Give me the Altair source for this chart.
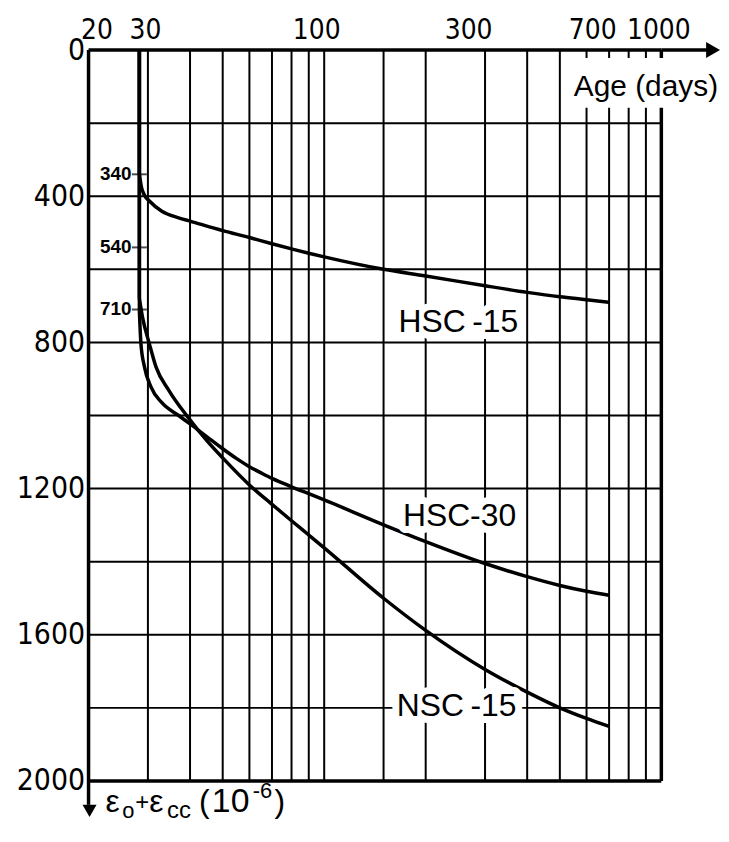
import altair as alt
import pandas as pd

NUM_FONT = "Liberation Sans Narrow, DejaVu Sans Condensed, Roboto Condensed, Arial Narrow, sans-serif"
TXT_FONT = "Liberation Sans, Arial, Helvetica, sans-serif"

# ---------------- data ----------------
series_names = ["HSC -15", "HSC-30", "NSC -15"]
label_texts = ["HSC\u2009-15", "HSC-30", "NSC\u2009-15"]
start_day = 28.3
initial_strain = [340, 713, 680]

hsc15_days = [28.3, 28.7, 29.3, 30.3, 33, 37, 40, 50, 60, 70, 80, 90, 100, 150, 200, 300, 400, 500, 600, 700]
hsc15_strain = [340, 375, 397, 413, 441, 459, 468, 494, 513, 530, 544, 556, 566, 600, 618, 645, 663, 675, 683, 690]

hsc30_days = [28.3, 28.6, 29.3, 30.6, 33, 37, 40, 45, 50, 55, 60, 65, 70, 80, 90, 100, 150, 200, 300, 400, 500, 600, 700]
hsc30_strain = [713, 803, 867, 921, 965, 1000, 1023, 1059, 1091, 1118, 1140, 1157, 1172, 1195, 1214, 1231, 1299, 1345, 1405, 1441, 1465, 1481, 1492]

nsc15_days = [28.3, 28.9, 30.3, 31.7, 34.6, 39.3, 45, 50, 60, 70, 80, 90, 100, 150, 200, 300, 400, 500, 600, 700]
nsc15_strain = [680, 730, 804, 867, 931, 1003, 1070, 1116, 1190, 1243, 1288, 1327, 1362, 1500, 1588, 1695, 1757, 1800, 1829, 1851]

x_tick_labels = [20, 30, 100, 300, 700, 1000]
y_tick_labels = [0, 400, 800, 1200, 1600, 2000]
x_grid = [30, 40, 50, 60, 70, 80, 90, 100, 150, 200, 300, 400, 500, 600, 700, 800, 900]
x_border = [20, 1000]
y_grid = [200, 400, 600, 800, 1000, 1200, 1400, 1600, 1800]
y_border = [0, 2000]

marker_values = [340, 540, 710]

label_days = [250, 252, 247]
label_strain = [743, 1275, 1795]

# ---------------- tables ----------------
rows = []
for name, d, s in [(series_names[0], hsc15_days, hsc15_strain),
                   (series_names[1], hsc30_days, hsc30_strain),
                   (series_names[2], nsc15_days, nsc15_strain)]:
    for i, (dd, ss) in enumerate(zip(d, s)):
        rows.append({"series": name, "day": dd, "strain": ss, "order": i})
curves = pd.DataFrame(rows)

init_df = pd.DataFrame({"series": series_names, "day": [start_day] * 3,
                        "top": [0] * 3, "strain": initial_strain})
xgrid_df = pd.DataFrame({"day": x_grid})
xborder_df = pd.DataFrame({"day": x_border})
ygrid_df = pd.DataFrame({"strain": y_grid})
yborder_df = pd.DataFrame({"strain": y_border})
marker_df = pd.DataFrame({"day": [start_day] * 3, "strain": marker_values,
                          "label": [str(v) for v in marker_values]})
label_df = pd.DataFrame({"day": label_days, "strain": label_strain, "label": label_texts})

W, H = 576, 735
xs = alt.Scale(type="log", domain=[20, 1000], nice=False)
ys = alt.Scale(domain=[0, 2000], reverse=True, nice=False)

# small horizontal nudges of the top labels, as in the original drawing
x_label_shift = {20: 8, 30: -3, 100: -8, 300: -17, 700: -17, 1000: -3}

x_axis = alt.Axis(orient="top", values=x_tick_labels, format="d", title=None,
                  labelFont=NUM_FONT, labelFontSize=28, labelColor="black",
                  ticks=False, domain=False, grid=False, labelPadding=6,
                  labelFlush=False, labelOverlap=False,
                  labelOffset={"condition": [{"test": f"datum.value == {k}", "value": v}
                                             for k, v in x_label_shift.items()],
                               "value": 0})
y_axis = alt.Axis(orient="left", values=y_tick_labels, format="d", title=None,
                  labelFont=NUM_FONT, labelFontSize=30, labelColor="black",
                  ticks=False, domain=False, grid=False, labelPadding=4)


def X(field="day:Q"):
    return alt.X(field, scale=xs, axis=x_axis)


def Y(field="strain:Q"):
    return alt.Y(field, scale=ys, axis=y_axis)


vgrid = alt.Chart(xgrid_df).mark_rule(color="black", strokeWidth=2).encode(
    x=X(), y=alt.value(0), y2=alt.value(H))
vborder = alt.Chart(xborder_df).mark_rule(color="black", strokeWidth=3.5).encode(
    x=X(), y=alt.value(0), y2=alt.value(H))
hgrid = alt.Chart(ygrid_df).mark_rule(color="black", strokeWidth=2).encode(
    y=Y(), x=alt.value(0), x2=alt.value(W))
hborder = alt.Chart(yborder_df).mark_rule(color="black", strokeWidth=3.5).encode(
    y=Y(), x=alt.value(0), x2=alt.value(W))

# white box behind "Age (days)"
title_box = alt.Chart(pd.DataFrame({"a": [0]})).mark_rect(color="white").encode(
    x=alt.value(489), x2=alt.value(W + 60), y=alt.value(8), y2=alt.value(58))
age_title = alt.Chart(pd.DataFrame({"t": ["Age (days)"]})).mark_text(
    font=TXT_FONT, fontSize=30, align="left", baseline="alphabetic", color="black").encode(
    x=alt.value(488), y=alt.value(46), text="t:N")

# axis arrows
x_arrow_line = alt.Chart(pd.DataFrame({"a": [0]})).mark_rule(color="black", strokeWidth=3.5).encode(
    x=alt.value(W), x2=alt.value(W + 50), y=alt.value(0))
x_arrow_head = alt.Chart(pd.DataFrame({"a": [0]})).mark_point(
    shape="triangle-right", filled=True, color="black", size=260, opacity=1).encode(
    x=alt.value(W + 52), y=alt.value(0))
y_arrow_line = alt.Chart(pd.DataFrame({"a": [0]})).mark_rule(color="black", strokeWidth=3.5).encode(
    x=alt.value(0), y=alt.value(H), y2=alt.value(H + 24))
y_arrow_head = alt.Chart(pd.DataFrame({"a": [0]})).mark_point(
    shape="triangle-down", filled=True, color="black", size=200, opacity=1).encode(
    x=alt.value(1), y=alt.value(H + 30))


# y title pieces: eps_o + eps_cc (10^-6)
def piece(txt, x, y, size):
    return alt.Chart(pd.DataFrame({"t": [txt]})).mark_text(
        font=TXT_FONT, fontSize=size, align="left", baseline="alphabetic", color="black").encode(
        x=alt.value(x), y=alt.value(y), text="t:N")


base_y = H + 31
title_pieces = [
    piece("ε", 17, base_y, 32),
    piece("o", 34, base_y + 6, 22),
    piece("+", 47, base_y - 2, 24),
    piece("ε", 61, base_y, 32),
    piece("cc", 79, base_y + 6, 24),
    piece("(", 111, base_y, 32),
    piece("10", 124, base_y, 34),
    piece("-6", 165, base_y - 14, 22),
    piece(")", 187, base_y, 32),
]

init_rules = alt.Chart(init_df).mark_rule(color="black", strokeWidth=3.5).encode(
    x=X(), y=Y("top:Q"), y2="strain:Q")

lines = alt.Chart(curves).mark_line(color="black", strokeWidth=3.5, interpolate="monotone").encode(
    x=X(), y=Y(), detail="series:N", order="order:Q")

marker_ticks = alt.Chart(marker_df).mark_tick(
    orient="horizontal", color="black", size=15, thickness=2).encode(
    x=X(), y=Y())
marker_text = alt.Chart(marker_df).mark_text(
    font=TXT_FONT, fontSize=19, fontWeight="bold", align="right", baseline="middle",
    dx=-8, color="black").encode(
    x=X(), y=Y(), text="label:N")

label_halo = alt.Chart(label_df).mark_text(
    font=TXT_FONT, fontSize=32, align="center", baseline="middle",
    color="white", stroke="white", strokeWidth=14, strokeJoin="round").encode(
    x=X(), y=Y(), text="label:N")
label_text = alt.Chart(label_df).mark_text(
    font=TXT_FONT, fontSize=32, align="center", baseline="middle", color="black").encode(
    x=X(), y=Y(), text="label:N")

chart = alt.layer(
    vgrid, hgrid, vborder, hborder,
    title_box, age_title,
    x_arrow_line, x_arrow_head, y_arrow_line, y_arrow_head,
    *title_pieces,
    init_rules, lines, marker_ticks, marker_text,
    label_halo, label_text,
).properties(
    width=W, height=H,
    autosize=alt.AutoSizeParams(type="none"),
    padding={"left": 81, "top": 40, "right": 60, "bottom": 44},
    background="white",
).configure_view(stroke=None)

chart.save("out.html", embed_options={"renderer": "svg", "actions": False})
